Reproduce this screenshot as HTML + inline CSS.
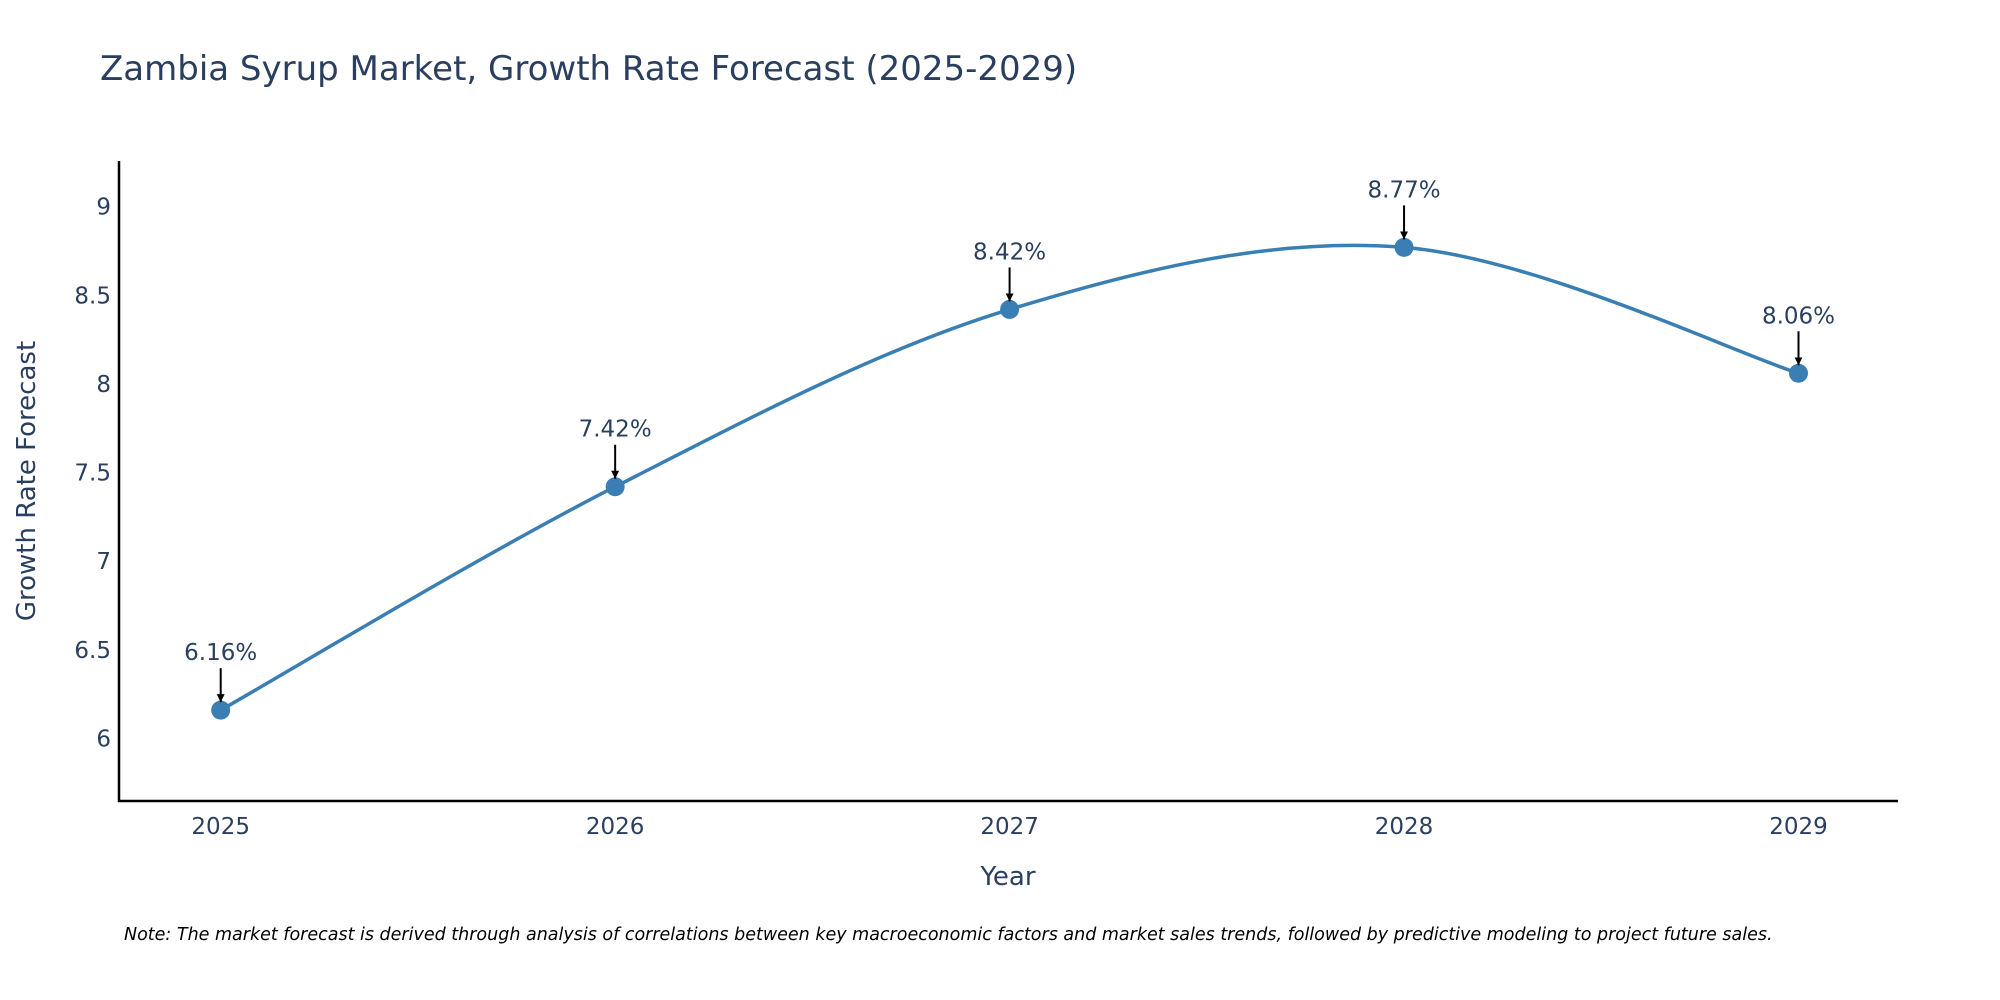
<!DOCTYPE html>
<html><head><meta charset="utf-8"><style>
body{margin:0;background:#fff;}
svg{display:block;font-family:"DejaVu Sans","Liberation Sans",sans-serif;}
</style></head><body>
<svg id="chart" width="2000" height="1000" viewBox="0 0 2000 1000">
<defs><marker id="ah" viewBox="0 0 10 10" refX="10" refY="5" markerWidth="4" markerHeight="4" orient="auto" markerUnits="strokeWidth"><path d="M0,0 L10,5 L0,10 z" fill="#000"/></marker></defs>
<text x="100" y="80" font-size="34" fill="#2a3f5f">Zambia Syrup Market, Growth Rate Forecast (2025-2029)</text>
<g id="yticks"></g>
<g id="xticks"></g>
<line x1="119" y1="161" x2="119" y2="802" stroke="#000" stroke-width="2.5"/>
<line x1="118" y1="801" x2="1898" y2="801" stroke="#000" stroke-width="2.5"/>
<text transform="translate(35,481) rotate(-90)" text-anchor="middle" font-size="26" fill="#2a3f5f">Growth Rate Forecast</text>
<text x="1008" y="885" text-anchor="middle" font-size="26" fill="#2a3f5f">Year</text>
<path id="line" fill="none" stroke="#3a7fb4" stroke-width="3.5"/>
<g id="marks"></g>
<text x="124" y="940" font-size="17.5" font-style="italic" fill="#000">Note: The market forecast is derived through analysis of correlations between key macroeconomic factors and market sales trends, followed by predictive modeling to project future sales.</text>
</svg>
<script>
const years = [2025, 2026, 2027, 2028, 2029];
const values = [6.16, 7.42, 8.42, 8.77, 8.06];
const labels = ["6.16%", "7.42%", "8.42%", "8.77%", "8.06%"];
const yTickVals = [6, 6.5, 7, 7.5, 8, 8.5, 9];
const yTickLabels = ["6", "6.5", "7", "7.5", "8", "8.5", "9"];

const NS = "http://www.w3.org/2000/svg";
const X = y => 220.7 + (y - 2025) * 394.45;
const Y = v => 738.5 - (v - 6) * 177.3;
function mk(tag, attrs, parent, text){const e=document.createElementNS(NS,tag);for(const k in attrs)e.setAttribute(k,attrs[k]);if(text!==undefined)e.textContent=text;parent.appendChild(e);return e;}

const yg = document.getElementById("yticks");
yTickVals.forEach((v,i)=>{
  const t = mk("text",{x:111,y:Y(v)+8,"text-anchor":"end","font-size":"23",fill:"#2a3f5f"},yg,yTickLabels[i]);
  
  
});
const xg = document.getElementById("xticks");
years.forEach(yr=>{
  const t = mk("text",{x:X(yr),y:834,"text-anchor":"middle","font-size":"23",fill:"#2a3f5f"},xg,String(yr));
  
  
});

const pts = years.map((yr,i)=>[X(yr),Y(values[i])]);
let d = "M"+pts[0][0]+","+pts[0][1];
const s = 1/6;
for(let i=0;i<pts.length-1;i++){
  const p0=pts[Math.max(i-1,0)],p1=pts[i],p2=pts[i+1],p3=pts[Math.min(i+2,pts.length-1)];
  const c1=[p1[0]+(p2[0]-p0[0])*s,p1[1]+(p2[1]-p0[1])*s];
  const c2=[p2[0]-(p3[0]-p1[0])*s,p2[1]-(p3[1]-p1[1])*s];
  d+=" C"+c1+" "+c2+" "+p2;
}
document.getElementById("line").setAttribute("d",d);

const mg = document.getElementById("marks");
pts.forEach((p,i)=>{
  const c = mk("circle",{cx:p[0],cy:p[1],r:9.5,fill:"#3a7fb4"},mg);
  
  
  const a = mk("line",{x1:p[0],y1:p[1]-42,x2:p[0],y2:p[1]-8,stroke:"#000","stroke-width":"2","marker-end":"url(#ah)"},mg);
  
  
  const t = mk("text",{x:p[0],y:p[1]-50,"text-anchor":"middle","font-size":"23",fill:"#2a3f5f"},mg,labels[i]);
  
  
});
</script>
</body></html>
